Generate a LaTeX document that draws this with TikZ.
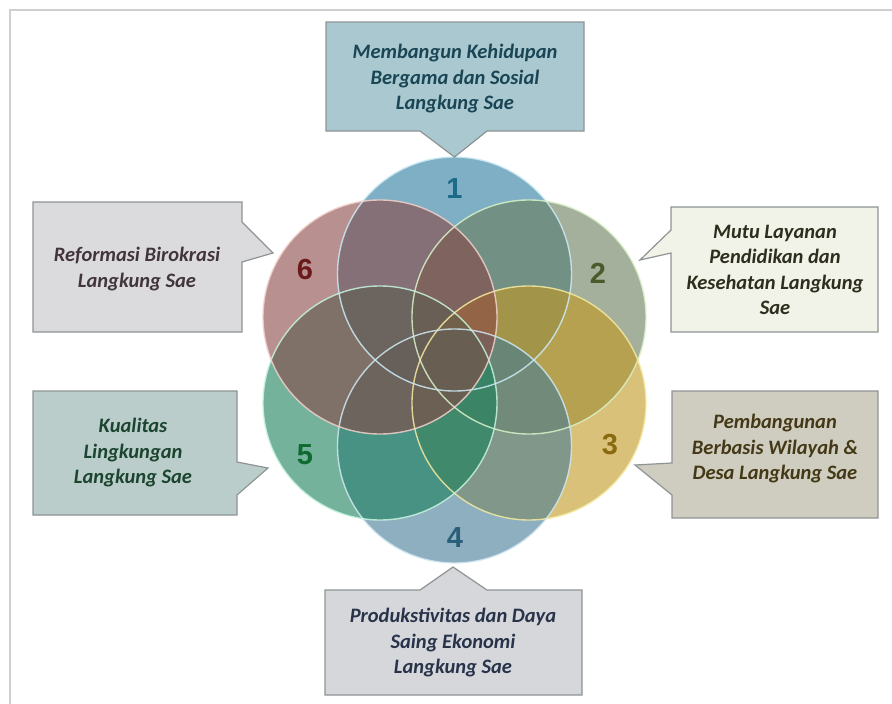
\documentclass[tikz,border=0pt]{standalone}
\usepackage{fontspec}
\setmainfont{Carlito}
\newfontfamily\numfont{Liberation Sans}
\definecolor{cA}{HTML}{2A7B9D}
\definecolor{cB}{HTML}{6A7C5A}
\definecolor{cC}{HTML}{C29820}
\definecolor{cD}{HTML}{447B96}
\definecolor{cE}{HTML}{18805A}
\definecolor{cF}{HTML}{894646}
\definecolor{eA}{HTML}{CDEBF5}
\definecolor{eB}{HTML}{D8F2C8}
\definecolor{eC}{HTML}{F5EBA0}
\definecolor{eD}{HTML}{D0E8F2}
\definecolor{eE}{HTML}{C8F5E0}
\definecolor{eF}{HTML}{F2D2CC}
\definecolor{nA}{HTML}{1A6A8A}
\definecolor{nB}{HTML}{4A5A28}
\definecolor{nC}{HTML}{8A6A10}
\definecolor{nD}{HTML}{2A5F7A}
\definecolor{nE}{HTML}{0F6A30}
\definecolor{nF}{HTML}{6A1A1A}
\definecolor{bTop}{HTML}{A9C8CF}
\definecolor{bSix}{HTML}{DBDBDD}
\definecolor{bTwo}{HTML}{F1F2E8}
\definecolor{bFive}{HTML}{BACDCA}
\definecolor{bThree}{HTML}{CFCCC0}
\definecolor{bFour}{HTML}{D5D7DB}
\definecolor{tTop}{HTML}{1A4555}
\definecolor{tSix}{HTML}{42343C}
\definecolor{tTwo}{HTML}{2E2E1E}
\definecolor{tFive}{HTML}{1B4530}
\definecolor{tThree}{HTML}{443916}
\definecolor{tFour}{HTML}{28334A}
\definecolor{frameline}{HTML}{CFCFCF}
\definecolor{boxline}{HTML}{8E9494}
\begin{document}
\begin{tikzpicture}[x=1pt,y=-1pt,
  petal/.style={circle,minimum size=234pt,inner sep=0pt,fill opacity=0.6,draw=none},
  petaledge/.style={circle,minimum size=234pt,inner sep=0pt,line width=1.4pt,draw opacity=0.85},
  numlabel/.style={font=\numfont\bfseries\fontsize{29}{30}\selectfont},
  callout/.style={draw=boxline,line width=1.2pt,line join=miter},
  calltext/.style={align=center,font=\bfseries\itshape\fontsize{20.5}{25.5}\selectfont,inner sep=0pt}]
\useasboundingbox (0,0) rectangle (892,704);
\fill[white] (0,0) rectangle (892,704);
\draw[frameline,line width=1.6pt] (892,10) -- (10,10) -- (10,704);
% circles
\path (454.5,274) node[petal,fill=cA] (c1) {};
\path (529,317) node[petal,fill=cB] (c2) {};
\path (529,403) node[petal,fill=cC] (c3) {};
\path (454.5,446) node[petal,fill=cD] (c4) {};
\path (380,403) node[petal,fill=cE] (c5) {};
\path (380,317) node[petal,fill=cF] (c6) {};
\path (c1.center) node[petaledge,draw=eA] {};
\path (c2.center) node[petaledge,draw=eB] {};
\path (c3.center) node[petaledge,draw=eC] {};
\path (c4.center) node[petaledge,draw=eD] {};
\path (c5.center) node[petaledge,draw=eE] {};
\path (c6.center) node[petaledge,draw=eF] {};
% numbers
\node[numlabel,text=nA] (n1) at (454.5,189) {1};
\node[numlabel,text=nB] (n2) at (598,273) {2};
\node[numlabel,text=nC] (n3) at (610,445) {3};
\node[numlabel,text=nD] (n4) at (455,538) {4};
\node[numlabel,text=nE] (n5) at (305,455) {5};
\node[numlabel,text=nF] (n6) at (305,270) {6};
% callouts
\draw[callout,fill=bTop] (326,22) -- (584,22) -- (584,131) -- (487,131) -- (454.5,157) -- (420,131) -- (326,131) -- cycle;
\draw[callout,fill=bSix] (33,202) -- (242,202) -- (242,222) -- (273,253) -- (242,262) -- (242,332) -- (33,332) -- cycle;
\draw[callout,fill=bTwo] (671,207) -- (878,207) -- (878,332) -- (671,332) -- (671,253) -- (640,260) -- (671,230) -- cycle;
\draw[callout,fill=bFive] (33,391) -- (237,391) -- (237,462) -- (268,468) -- (237,495) -- (237,515) -- (33,515) -- cycle;
\draw[callout,fill=bThree] (672,391) -- (878,391) -- (878,518) -- (672,518) -- (672,495) -- (635,465) -- (672,463) -- cycle;
\draw[callout,fill=bFour] (325,590) -- (420,590) -- (453,567) -- (487,590) -- (582,590) -- (582,695) -- (325,695) -- cycle;
% texts
\node[calltext,text=tTop] (t1) at (455,79) {Membangun Kehidupan\\Bergama dan Sosial\\Langkung Sae};
\node[calltext,text=tTwo] (t2) at (775,270) {Mutu Layanan\\Pendidikan dan\\Kesehatan Langkung\\Sae};
\node[calltext,text=tThree] (t3) at (775,449) {Pembangunan\\Berbasis Wilayah \&\\Desa Langkung Sae};
\node[calltext,text=tFour] (t4) at (453,643) {Produkstivitas dan Daya\\Saing Ekonomi\\Langkung Sae};
\node[calltext,text=tFive] (t5) at (133,453) {Kualitas\\Lingkungan\\Langkung Sae};
\node[calltext,text=tSix] (t6) at (137,269) {Reformasi Birokrasi\\Langkung Sae};
\end{tikzpicture}
\end{document}
